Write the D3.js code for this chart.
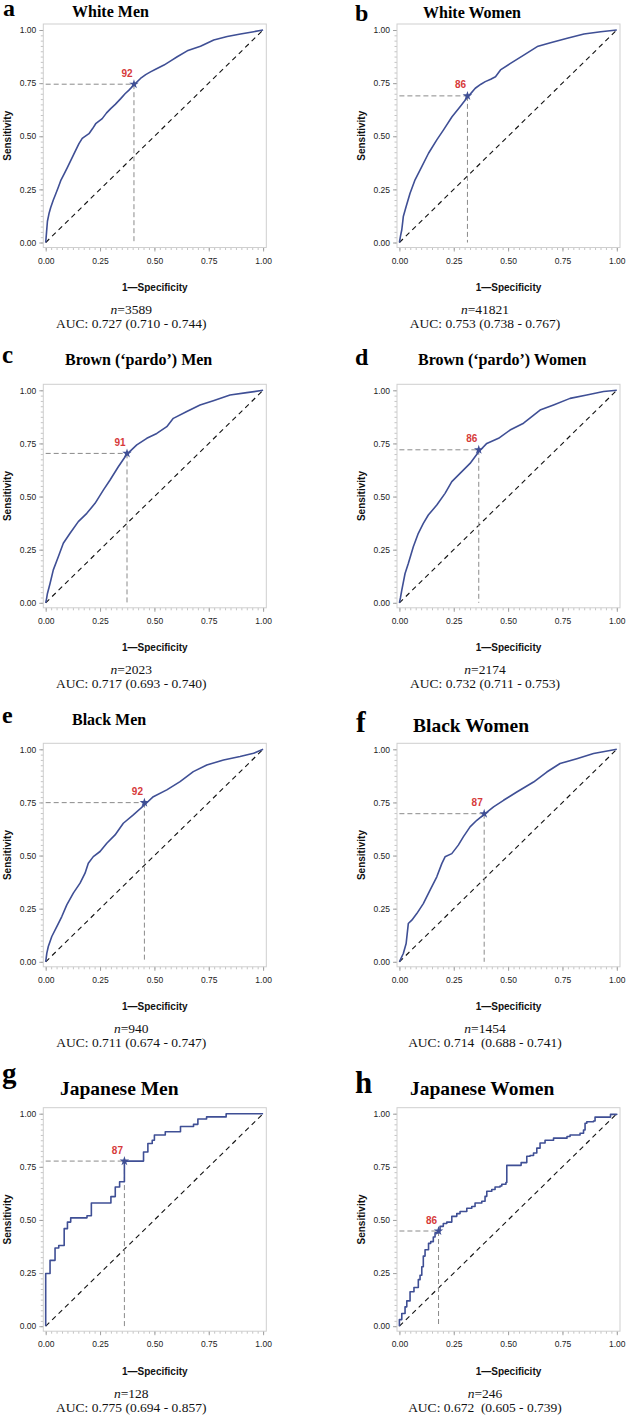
<!DOCTYPE html>
<html>
<head>
<meta charset="utf-8">
<script src="https://cdn.jsdelivr.net/npm/d3@7"></script>
<style>
  html, body { margin: 0; padding: 0; background: #fff; }
  svg { display: block; }
  text { white-space: pre; }
</style>
</head>
<body>
<svg id="chart" width="627" height="1417"></svg>
<script>
// ---------------- DATA ----------------
const panelLetters = ["a", "b", "c", "d", "e", "f", "g", "h"];
const panelTitles = ["White Men", "White Women", "Brown (\u2018pardo\u2019) Men", "Brown (\u2018pardo\u2019) Women",
                     "Black Men", "Black Women", "Japanese Men", "Japanese Women"];
const sampleSizes = ["3589", "41821", "2023", "2174", "940", "1454", "128", "246"];
const aucTexts = ["0.727 (0.710 - 0.744)", "0.753 (0.738 - 0.767)", "0.717 (0.693 - 0.740)",
                  "0.732 (0.711 - 0.753)", "0.711 (0.674 - 0.747)", "0.714  (0.688 - 0.741)",
                  "0.775 (0.694 - 0.857)", "0.672  (0.605 - 0.739)"];
const cutoffLabels = ["92", "86", "91", "86", "92", "87", "87", "86"];
const cutoffFPR = [0.406, 0.313, 0.374, 0.365, 0.454, 0.390, 0.362, 0.180];
const cutoffTPR = [0.745, 0.690, 0.703, 0.720, 0.749, 0.697, 0.777, 0.448];
const tickValues = [0, 0.25, 0.5, 0.75, 1];
const tickLabels = ["0.00", "0.25", "0.50", "0.75", "1.00"];
const minorTickValues = [0,0.025,0.05,0.075,0.1,0.125,0.15,0.175,0.2,0.225,0.25,0.275,0.3,0.325,0.35,0.375,0.4,0.425,0.45,0.475,0.5,
                         0.525,0.55,0.575,0.6,0.625,0.65,0.675,0.7,0.725,0.75,0.775,0.8,0.825,0.85,0.875,0.9,0.925,0.95,0.975,1];
const xAxisTitle = "1\u2014Specificity";
const yAxisTitle = "Sensitivity";

// ROC curves: [1-specificity, sensitivity]
const rocWhiteMen = [[0,0],[0.004,0.05],[0.008,0.10],[0.015,0.135],[0.023,0.165],[0.035,0.2],[0.046,0.228],[0.058,0.26],[0.069,0.291],
  [0.085,0.323],[0.10,0.354],[0.115,0.385],[0.13,0.417],[0.153,0.465],[0.168,0.49],[0.176,0.496],[0.199,0.512],[0.215,0.535],
  [0.23,0.559],[0.26,0.583],[0.28,0.61],[0.299,0.63],[0.32,0.65],[0.345,0.677],[0.365,0.70],[0.383,0.717],[0.406,0.742],
  [0.436,0.772],[0.46,0.79],[0.482,0.803],[0.51,0.818],[0.544,0.835],[0.575,0.855],[0.605,0.874],[0.651,0.902],[0.712,0.924],
  [0.773,0.953],[0.835,0.969],[0.896,0.981],[0.957,0.992],[1,1]];
const rocWhiteWomen = [[0,0],[0.005,0.03],[0.011,0.06],[0.015,0.095],[0.018,0.122],[0.031,0.169],[0.049,0.232],[0.072,0.295],
  [0.103,0.357],[0.134,0.42],[0.172,0.483],[0.203,0.53],[0.242,0.592],[0.28,0.64],[0.313,0.683],[0.349,0.726],[0.375,0.745],
  [0.395,0.757],[0.42,0.768],[0.442,0.78],[0.465,0.812],[0.511,0.843],[0.572,0.882],[0.634,0.922],[0.695,0.94],[0.772,0.961],
  [0.849,0.981],[0.926,0.992],[1,1]];
const rocBrownMen = [[0,0],[0.004,0.02],[0.008,0.044],[0.02,0.091],[0.035,0.155],[0.058,0.217],[0.081,0.28],[0.112,0.327],
  [0.15,0.382],[0.189,0.421],[0.227,0.468],[0.265,0.53],[0.296,0.578],[0.334,0.64],[0.374,0.700],[0.419,0.743],[0.465,0.774],
  [0.511,0.797],[0.557,0.829],[0.587,0.868],[0.649,0.9],[0.71,0.931],[0.771,0.951],[0.848,0.978],[0.925,0.989],[1,1]];
const rocBrownWomen = [[0,0],[0.005,0.025],[0.011,0.06],[0.026,0.138],[0.041,0.185],[0.064,0.264],[0.087,0.327],[0.11,0.374],
  [0.133,0.413],[0.172,0.46],[0.21,0.515],[0.241,0.57],[0.279,0.609],[0.325,0.656],[0.365,0.711],[0.402,0.75],[0.456,0.774],
  [0.509,0.813],[0.571,0.845],[0.647,0.907],[0.709,0.931],[0.785,0.962],[0.862,0.978],[0.939,0.994],[1,1]];
const rocBlackMen = [[0,0],[0.005,0.04],[0.012,0.072],[0.028,0.119],[0.051,0.166],[0.074,0.213],[0.097,0.268],[0.127,0.323],
  [0.158,0.37],[0.181,0.417],[0.196,0.464],[0.219,0.495],[0.25,0.519],[0.281,0.558],[0.319,0.597],[0.357,0.652],[0.403,0.691],
  [0.454,0.738],[0.495,0.777],[0.557,0.809],[0.618,0.848],[0.679,0.895],[0.741,0.926],[0.818,0.95],[0.894,0.966],[0.956,0.981],[1,1]];
const rocBlackWomen = [[0,0],[0.018,0.039],[0.031,0.086],[0.041,0.18],[0.057,0.196],[0.08,0.227],[0.11,0.274],[0.141,0.337],
  [0.172,0.4],[0.195,0.462],[0.21,0.494],[0.241,0.509],[0.271,0.549],[0.294,0.588],[0.325,0.635],[0.356,0.666],[0.39,0.694],
  [0.433,0.729],[0.479,0.76],[0.54,0.799],[0.617,0.846],[0.678,0.893],[0.739,0.933],[0.816,0.956],[0.893,0.98],[1,1]];
const rocJapaneseMen = [[0,0],[0,0.248],[0.02,0.31],[0.043,0.368],[0.06,0.38],[0.085,0.459],[0.1,0.49],[0.115,0.51],[0.19,0.52],
  [0.21,0.58],[0.3,0.61],[0.32,0.655],[0.34,0.68],[0.362,0.777],[0.45,0.82],[0.47,0.86],[0.49,0.875],[0.5,0.9],[0.55,0.915],
  [0.62,0.94],[0.68,0.95],[0.7,0.975],[0.74,0.985],[0.83,1.0],[1,1]];
const rocJapaneseWomen = [[0,0],[0,0.031],[0.011,0.06],[0.026,0.091],[0.034,0.119],[0.049,0.162],[0.067,0.182],[0.087,0.219],
  [0.095,0.24],[0.103,0.28],[0.11,0.33],[0.118,0.36],[0.134,0.39],[0.144,0.398],[0.156,0.42],[0.164,0.44],[0.18,0.448],[0.187,0.47],
  [0.202,0.483],[0.218,0.49],[0.241,0.517],[0.264,0.53],[0.279,0.54],[0.31,0.555],[0.333,0.563],[0.348,0.58],[0.379,0.588],
  [0.394,0.611],[0.402,0.635],[0.425,0.643],[0.44,0.655],[0.463,0.66],[0.471,0.668],[0.49,0.676],[0.494,0.757],[0.56,0.77],
  [0.586,0.80],[0.601,0.803],[0.617,0.815],[0.632,0.838],[0.647,0.862],[0.67,0.875],[0.709,0.885],[0.771,0.893],[0.785,0.9],
  [0.831,0.908],[0.847,0.923],[0.854,0.955],[0.862,0.962],[0.893,0.966],[0.9,0.984],[0.971,0.997],[1,1]];
const rocCurves = [rocWhiteMen, rocWhiteWomen, rocBrownMen, rocBrownWomen, rocBlackMen, rocBlackWomen, rocJapaneseMen, rocJapaneseWomen];
const stepCurve = [false, false, false, false, false, false, true, true];

// ---------------- LAYOUT ----------------
const colLeft = [43.3, 397];
const rowTop = [24, 384.3, 743.3, 1107.7];
const frameW = 223, frameH = 223.5;
const padL = 2.4, padR = 3.2, padT = 6, padB = 5;
const titleLayout = [ // x(start), baseline, size
  [72, 17, 16], [423, 18, 16], [65, 365, 16], [418, 365, 16],
  [72, 725, 16], [413, 732, 19.5], [60, 1095, 19.5], [410, 1095, 19.5]];
const letterLayout = [
  [3, 16, 24], [355, 21, 24], [2, 363, 25], [355, 365, 24],
  [2, 723, 24], [356, 732, 29], [2, 1083, 29], [355, 1093, 31]];

const curveColor = "#3f4f95";
const svg = d3.select("#chart");

panelTitles.forEach((title, i) => {
  const col = i % 2, row = Math.floor(i / 2);
  const L = colLeft[col], T = rowTop[row];
  const B = T + frameH;
  const x = d3.scaleLinear().domain([0, 1]).range([L + padL, L + frameW - padR]);
  const y = d3.scaleLinear().domain([0, 1]).range([B - padB, T + padT]);
  const g = svg.append("g");

  // letter & title
  g.append("text").attr("x", letterLayout[i][0]).attr("y", letterLayout[i][1])
    .attr("font-family", "Liberation Serif, Times New Roman, serif").attr("font-weight", "bold")
    .attr("font-size", letterLayout[i][2]).attr("fill", "#000").text(panelLetters[i]);
  g.append("text").attr("x", titleLayout[i][0]).attr("y", titleLayout[i][1])
    .attr("font-family", "Liberation Serif, Times New Roman, serif").attr("font-weight", "bold")
    .attr("font-size", titleLayout[i][2]).attr("fill", "#000").text(title);

  // minor ticks
  const minorX = d3.axisBottom(x).tickValues(minorTickValues).tickSize(2.5).tickFormat("");
  const minorY = d3.axisLeft(y).tickValues(minorTickValues).tickSize(2.5).tickFormat("");
  const gmx = g.append("g").attr("transform", `translate(0,${B})`).call(minorX);
  const gmy = g.append("g").attr("transform", `translate(${L},0)`).call(minorY);
  [gmx, gmy].forEach(a => { a.select(".domain").remove(); a.selectAll("line").attr("stroke", "#b5b5b5").attr("stroke-width", 0.8); });

  // major ticks
  const majorX = d3.axisBottom(x).tickValues(tickValues).tickSize(4).tickPadding(6)
    .tickFormat((d, k) => tickLabels[k]);
  const majorY = d3.axisLeft(y).tickValues(tickValues).tickSize(4).tickPadding(3)
    .tickFormat((d, k) => tickLabels[k]);
  const gx = g.append("g").attr("transform", `translate(0,${B})`).call(majorX);
  const gy = g.append("g").attr("transform", `translate(${L},0)`).call(majorY);
  [gx, gy].forEach(a => {
    a.select(".domain").remove();
    a.selectAll("line").attr("stroke", "#9a9a9a").attr("stroke-width", 0.9);
    a.selectAll("text").attr("font-family", "Liberation Sans, Arial, sans-serif").attr("font-size", 8.5).attr("fill", "#222");
  });

  // frame
  g.append("rect").attr("x", L).attr("y", T).attr("width", frameW).attr("height", frameH)
    .attr("fill", "none").attr("stroke", "#cfcfcf").attr("stroke-width", 1);

  // axis titles
  g.append("text").attr("x", L + frameW / 2).attr("y", B + 43.5).attr("text-anchor", "middle")
    .attr("font-family", "Liberation Sans, Arial, sans-serif").attr("font-weight", "bold").attr("font-size", 10)
    .attr("fill", "#111").text(xAxisTitle);
  g.append("text").attr("transform", `translate(${L - 32.5},${T + frameH / 2}) rotate(-90)`).attr("text-anchor", "middle")
    .attr("font-family", "Liberation Sans, Arial, sans-serif").attr("font-weight", "bold").attr("font-size", 10)
    .attr("fill", "#111").text(yAxisTitle);

  // diagonal reference
  g.append("line").attr("x1", x(0)).attr("y1", y(0)).attr("x2", x(1)).attr("y2", y(1))
    .attr("stroke", "#111").attr("stroke-width", 1.1).attr("stroke-dasharray", "5,4");

  // cutoff guides
  g.append("line").attr("x1", x(0)).attr("y1", y(cutoffTPR[i])).attr("x2", x(cutoffFPR[i])).attr("y2", y(cutoffTPR[i]))
    .attr("stroke", "#8a8a8a").attr("stroke-width", 1).attr("stroke-dasharray", "5,3");
  g.append("line").attr("x1", x(cutoffFPR[i])).attr("y1", y(cutoffTPR[i])).attr("x2", x(cutoffFPR[i])).attr("y2", y(0))
    .attr("stroke", "#8a8a8a").attr("stroke-width", 1).attr("stroke-dasharray", "5,3");

  // ROC curve
  const line = d3.line().x(d => x(d[0])).y(d => y(d[1]))
    .curve(stepCurve[i] ? d3.curveStepAfter : d3.curveLinear);
  g.append("path").datum(rocCurves[i]).attr("d", line).attr("fill", "none")
    .attr("stroke", curveColor).attr("stroke-width", 1.6).attr("stroke-linejoin", "round");

  // cutoff marker and label
  g.append("path").attr("d", d3.symbol(d3.symbolStar, 28)())
    .attr("transform", `translate(${x(cutoffFPR[i])},${y(cutoffTPR[i])})`).attr("fill", curveColor);
  g.append("text").attr("x", x(cutoffFPR[i]) - 7).attr("y", y(cutoffTPR[i]) - 7.5).attr("text-anchor", "middle")
    .attr("font-family", "Liberation Sans, Arial, sans-serif").attr("font-size", 10).attr("font-weight", "bold")
    .attr("fill", "#d63a3a").text(cutoffLabels[i]);

  // n and AUC
  const cx = L + 88;
  const nt = g.append("text").attr("x", cx).attr("y", B + 66.5).attr("text-anchor", "middle")
    .attr("font-family", "Liberation Serif, Times New Roman, serif").attr("font-size", 13.5).attr("fill", "#111");
  nt.append("tspan").attr("font-style", "italic").text("n");
  nt.append("tspan").text("=" + sampleSizes[i]);
  g.append("text").attr("x", cx).attr("y", B + 80.5).attr("text-anchor", "middle")
    .attr("font-family", "Liberation Serif, Times New Roman, serif").attr("font-size", 13.5).attr("fill", "#111")
    .text("AUC: " + aucTexts[i]);
});
</script>
</body>
</html>
